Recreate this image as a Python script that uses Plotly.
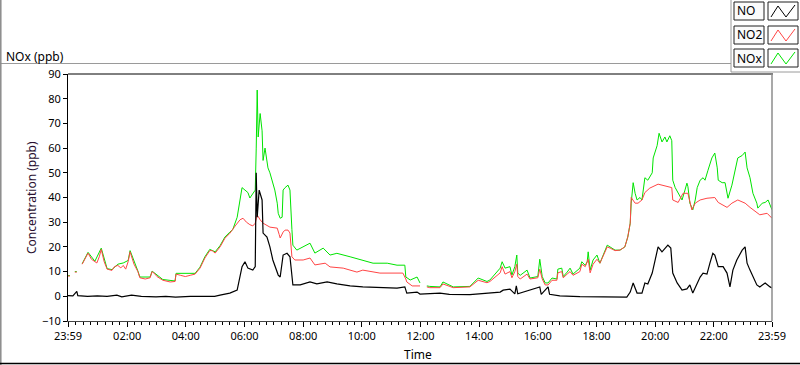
import plotly.graph_objects as go

# ---------------- data (minutes after 23:59 of the previous day) ----------------
no_t = [0, 10, 18, 20, 40, 60, 80, 100, 110, 130, 150, 180, 200, 220, 250, 280, 300, 311, 321, 331,
        346, 352, 356, 362, 368, 378, 383, 385, 387, 391, 397, 399, 407, 413, 419, 430, 434, 440, 448,
        454, 458, 460, 475, 495, 509, 530, 550, 577, 603, 638, 673, 689, 693, 714, 720, 761, 780, 822,
        884, 890, 904, 914, 917, 920, 965, 968, 982, 985, 1006, 1047, 1088, 1143, 1150, 1156, 1164,
        1174, 1180, 1186, 1195, 1201, 1207, 1215, 1221, 1227, 1233, 1237, 1246, 1256, 1266, 1272, 1278,
        1287, 1293, 1299, 1307, 1313, 1319, 1323, 1330, 1340, 1348, 1354, 1360, 1368, 1379, 1385, 1389,
        1395, 1401, 1409, 1415, 1426, 1436, 1440]
no_v = [0.3, 0.2, 2.0, 0.3, 0.0, 0.2, 0.0, 0.5, -0.2, 0.5, 0.0, -0.2, 0.0, -0.3, 0.0, 0.0, 0.0, 0.5, 1.0, 1.3,
        2.5, 7.8, 12.0, 14.0, 11.4, 10.6, 12.0, 50.0, 32.0, 43.0, 39.0, 25.6, 24.0, 20.0, 14.7, 8.6, 7.8, 16.7, 17.4,
        16.0, 6.6, 4.6, 4.6, 5.8, 5.0, 5.8, 5.0, 4.2, 3.8, 3.4, 3.3, 3.8, 1.3, 1.7, 0.9, 1.3, 0.8, 0.7,
        1.7, 2.5, 2.9, 1.0, 4.2, 1.0, 3.8, 0.8, 3.8, 0.8, 0.2, -0.1, -0.3, -0.3, 1.7, 5.4, 1.3,
        1.3, 5.4, 5.0, 9.4, 14.7, 20.0, 18.0, 19.5, 20.7, 19.5, 9.4, 5.4, 2.5, 3.0, 4.6, 1.3,
        5.4, 7.8, 9.4, 9.0, 13.4, 17.4, 16.7, 12.0, 12.0, 9.4, 3.8, 10.6, 14.7, 18.7, 20.0, 13.4,
        10.6, 7.8, 4.6, 3.8, 5.4, 3.8, 3.4]

no2_t = [0, 4, 6, 14, 18, 22, 29, 35, 41, 48, 55, 59, 64, 68, 74, 80, 90, 95, 102, 108, 113, 118, 123, 127,
         135, 143, 147, 158, 168, 172, 178, 182, 194, 209, 219, 221, 230, 240, 250, 260, 270, 280, 290, 295,
         301, 311, 321, 331, 342, 352, 358, 365, 372, 378, 383, 387, 393, 399, 413, 428, 432, 434, 440, 444,
         450, 454, 458, 464, 481, 495, 505, 515, 526, 536, 563, 591, 603, 638, 685, 691, 693, 704, 720, 726,
         734, 740, 761, 767, 788, 822, 839, 857, 863, 884, 888, 894, 904, 908, 914, 918, 920, 925, 939, 945,
         961, 965, 970, 976, 982, 990, 1000, 1002, 1010, 1013, 1021, 1027, 1033, 1047, 1051, 1058, 1064, 1068,
         1074, 1082, 1088, 1103, 1109, 1119, 1129, 1139, 1145, 1150, 1152, 1160, 1166, 1174, 1180, 1190, 1207,
         1225, 1235, 1237, 1248, 1258, 1268, 1276, 1283, 1293, 1307, 1323, 1330, 1348, 1358, 1370, 1385, 1395,
         1409, 1415, 1430, 1440]
no2_v = [8.2, 8.2, None, 9.8, 9.8, None, 13.0, 15.0, 17.5, 15.0, 14.0, 13.5, 16.0, 19.0, 14.0, 11.0, 10.5, 12.0,
         12.5, 11.5, 12.5, 11.0, 14.0, 18.0, 13.0, 10.0, 7.5, 7.0, 7.5, 10.0, 9.0, 8.0, 6.5, 5.8, 6.0, 9.0, 8.5,
         8.0, 8.5, 9.0, 11.4, 15.5, 18.5, 18.5, 17.5, 20.0, 23.5, 25.5, 28.5, 31.0, 31.6, 30.0, 29.0, 28.5, 29.6,
         32.9, 31.0, 29.6, 28.0, 27.6, 25.0, 23.6, 26.0, 26.8, 26.8, 25.6, 16.0, 14.7, 14.7, 15.5, 12.7, 13.0,
         13.4, 11.9, 11.4, 9.8, 10.6, 9.4, 9.4, 7.0, 5.8, 4.2, 4.2, None, 3.8, 3.5, 3.5, 5.0, 3.5, 3.8, 6.5, 5.5,
         6.0, 9.5, 12.0, 9.0, 10.0, 7.5, 10.0, 13.0, 8.0, 7.0, 9.0, 7.0, 7.5, 11.0, 7.0, 4.6, 4.6, 6.5, 6.5, 9.5,
         10.0, 7.5, 9.0, 10.0, 8.5, 10.0, 13.0, 12.0, 15.0, 9.5, 13.0, 15.0, 13.4, 20.0, 19.5, 18.5, 18.7, 20.0,
         24.0, 29.6, 40.0, 37.7, 37.7, 39.0, 42.0, 43.8, 45.4, 44.6, 44.0, 39.0, 38.0, 41.7, 41.7, 35.0, 37.7,
         39.0, 39.7, 40.0, 38.0, 36.0, 37.7, 39.0, 37.7, 36.0, 34.0, 33.0, 33.6, 31.6]

nox_t = [0, 4, 6, 14, 18, 22, 29, 41, 55, 68, 80, 90, 102, 113, 123, 127, 143, 147, 168, 172, 194, 219, 221,
         260, 270, 280, 290, 301, 311, 321, 331, 337, 346, 352, 356, 362, 368, 372, 376, 383, 385, 387, 389,
         393, 397, 399, 403, 407, 409, 413, 417, 423, 428, 430, 434, 438, 440, 444, 450, 454, 458, 460, 468,
         475, 495, 505, 522, 536, 550, 577, 603, 624, 653, 673, 689, 691, 700, 714, 720, 726, 734, 740, 761,
         767, 788, 822, 839, 857, 863, 884, 888, 894, 904, 908, 914, 918, 920, 925, 939, 945, 961, 965, 970,
         976, 982, 990, 1000, 1002, 1010, 1013, 1021, 1027, 1033, 1047, 1051, 1058, 1062, 1064, 1068, 1074,
         1082, 1088, 1103, 1109, 1119, 1129, 1139, 1145, 1150, 1152, 1156, 1160, 1164, 1170, 1174, 1180, 1186,
         1195, 1197, 1205, 1209, 1215, 1221, 1225, 1231, 1235, 1237, 1242, 1248, 1256, 1262, 1266, 1268, 1272,
         1278, 1283, 1287, 1293, 1299, 1303, 1309, 1317, 1323, 1328, 1330, 1338, 1344, 1350, 1358, 1364, 1370,
         1379, 1385, 1389, 1395, 1401, 1409, 1411, 1420, 1426, 1432, 1436, 1440]
nox_v = [8.4, 8.4, None, 10.0, 10.0, None, 13.2, 17.8, 14.2, 19.5, 11.2, 10.8, 13.0, 13.5, 14.5, 18.5, 10.2,
         7.8, 7.8, 10.2, 6.8, 6.2, 9.3, 9.3, 11.8, 16.0, 19.0, 18.0, 20.5, 24.0, 26.0, 27.0, 32.0, 40.0, 44.0,
         43.0, 42.0, 39.8, 41.0, 43.0, 60.0, 83.5, 64.5, 74.0, 67.0, 55.0, 60.0, 54.0, 52.0, 50.0, 47.0, 43.0,
         37.7, 33.6, 31.6, 32.0, 43.0, 44.0, 45.0, 43.0, 27.0, 20.7, 18.7, 19.5, 21.5, 17.5, 19.5, 16.7, 17.4,
         16.0, 14.6, 13.4, 13.4, 12.6, 12.6, 7.8, 6.6, 7.8, 5.4, None, 4.2, 4.0, 3.8, 5.8, 3.8, 4.0, 7.4, 6.0,
         6.6, 11.4, 14.0, 11.4, 12.0, 8.6, 12.0, 16.7, 9.4, 8.5, 10.6, 7.4, 8.0, 15.0, 8.0, 5.4, 5.4, 7.4, 7.0,
         11.0, 11.4, 8.0, 9.8, 11.4, 9.0, 11.4, 14.0, 12.5, 14.0, 18.0, 10.6, 14.7, 16.7, 13.4, 20.7, 20.0,
         18.7, 18.7, 20.0, 24.0, 29.6, 37.7, 46.0, 41.7, 39.0, 40.0, 39.0, 48.0, 47.0, 50.0, 56.0, 61.0, 66.0,
         62.5, 64.5, 62.5, 65.0, 63.0, 47.0, 44.0, 41.7, 39.0, 43.0, 45.8, 44.4, 37.7, 35.0, 39.0, 44.0, 47.0,
         48.0, 47.0, 51.0, 56.0, 58.0, 52.0, 47.0, 46.0, 46.0, 39.7, 45.0, 51.0, 56.0, 57.0, 58.4, 52.0, 48.0,
         41.7, 37.7, 35.7, 37.7, 38.0, 39.0, 37.0, 35.0]

x_tick_vals = [0, 121, 241, 361, 481, 601, 721, 841, 961, 1081, 1201, 1321, 1440]
x_tick_text = ["23:59", "02:00", "04:00", "06:00", "08:00", "10:00", "12:00", "14:00",
               "16:00", "18:00", "20:00", "22:00", "23:59"]
legend_names = ["NO", "NO2", "NOx"]
colors = {"NO": "#000000", "NO2": "#ff4545", "NOx": "#00e400"}

FONT = "Noto Sans"

# ---------------- geometry helpers (pixel -> paper) ----------------
L, R, T, B = 68, 772, 74, 321
W, H = R - L, B - T


def px(p):
    return (p - L) / W


def py(p):
    return (B - p) / H


fig = go.Figure()
fig.add_trace(go.Scatter(x=nox_t, y=nox_v, mode="lines", name="NOx",
                         line=dict(color=colors["NOx"], width=1), connectgaps=False))
fig.add_trace(go.Scatter(x=no2_t, y=no2_v, mode="lines", name="NO2",
                         line=dict(color=colors["NO2"], width=1), connectgaps=False))
fig.add_trace(go.Scatter(x=no_t, y=no_v, mode="lines", name="NO",
                         line=dict(color=colors["NO"], width=1.2), connectgaps=False))

fig.update_layout(
    width=800, height=365,
    margin=dict(l=L, r=800 - R, t=T, b=365 - B),
    paper_bgcolor="white", plot_bgcolor="white",
    showlegend=False,
    font=dict(family=FONT, size=11, color="#000000"),
)

fig.update_xaxes(
    range=[0, 1440], tickmode="array", tickvals=x_tick_vals, ticktext=x_tick_text,
    ticks="outside", ticklen=5, tickcolor="#000000", tickwidth=1,
    showline=True, linecolor="#444444", linewidth=1, showgrid=False, zeroline=False,
    tickfont=dict(family=FONT, size=11, color="#000000"),
    minor=dict(tickmode="linear", tick0=1, dtick=15, ticks="outside", ticklen=3,
               tickcolor="#000000", showgrid=False),
)
fig.update_yaxes(
    range=[-10, 90], tickmode="linear", tick0=-10, dtick=10,
    ticks="outside", ticklen=4, tickcolor="#000000", tickwidth=1,
    showline=True, linecolor="#000000", linewidth=1, showgrid=False, zeroline=False,
    tickfont=dict(family=FONT, size=11, color="#000000"),
)

shapes = []
# plot frame: top black, right grey
shapes.append(dict(type="line", xref="paper", yref="paper", x0=px(L), x1=px(773), y0=py(74), y1=py(74),
                   line=dict(color="#000000", width=1)))
shapes.append(dict(type="line", xref="paper", yref="paper", x0=px(772), x1=px(772), y0=py(74), y1=py(321),
                   line=dict(color="#8c8c8c", width=1.5)))
# title separator and legend panel borders
shapes.append(dict(type="line", xref="paper", yref="paper", x0=px(0), x1=px(731), y0=py(63.5), y1=py(63.5),
                   line=dict(color="#9a9a9a", width=1)))
shapes.append(dict(type="line", xref="paper", yref="paper", x0=px(731), x1=px(731), y0=py(0), y1=py(72),
                   line=dict(color="#9a9a9a", width=1)))
shapes.append(dict(type="line", xref="paper", yref="paper", x0=px(731), x1=px(800), y0=py(72), y1=py(72),
                   line=dict(color="#9a9a9a", width=1)))
# outer window edges
shapes.append(dict(type="line", xref="paper", yref="paper", x0=px(0.8), x1=px(0.8), y0=py(0), y1=py(365),
                   line=dict(color="#8a8a8a", width=1.5)))
shapes.append(dict(type="line", xref="paper", yref="paper", x0=px(0), x1=px(800), y0=py(363.5), y1=py(363.5),
                   line=dict(color="#000000", width=1.5)))

annotations = []
row_tops = [2, 26, 49]
for name, top in zip(legend_names, row_tops):
    bot = top + 18
    shapes.append(dict(type="rect", xref="paper", yref="paper", x0=px(734), x1=px(764), y0=py(bot), y1=py(top),
                       line=dict(color="#202020", width=1), fillcolor="#fbfbfb"))
    shapes.append(dict(type="rect", xref="paper", yref="paper", x0=px(768), x1=px(798), y0=py(bot), y1=py(top),
                       line=dict(color="#202020", width=1), fillcolor="#ffffff"))
    pts = [(771, top + 15), (778, top + 4), (786, top + 15), (795, top + 3)]
    path = "M " + " L ".join(f"{px(a):.5f},{py(b):.5f}" for a, b in pts)
    shapes.append(dict(type="path", xref="paper", yref="paper", path=path,
                       line=dict(color=colors[name], width=1)))
    annotations.append(dict(x=px(735), y=py(top + 9), xref="paper", yref="paper", text=name,
                            showarrow=False, xanchor="left", yanchor="middle",
                            font=dict(family=FONT, size=12, color="#000000")))

annotations.append(dict(x=px(4), y=py(57), xref="paper", yref="paper", text="NOx (ppb)", showarrow=False,
                        xanchor="left", yanchor="middle", font=dict(family=FONT, size=12, color="#000000")))
annotations.append(dict(x=px(418), y=py(354), xref="paper", yref="paper", text="Time", showarrow=False,
                        xanchor="center", yanchor="middle", font=dict(family=FONT, size=12, color="#000000")))
annotations.append(dict(x=px(31), y=py(198), xref="paper", yref="paper", text="Concentration (ppb)",
                        showarrow=False, textangle=-90, xanchor="center", yanchor="middle",
                        font=dict(family=FONT, size=12, color="#2a1030")))

fig.update_layout(shapes=shapes, annotations=annotations)
fig.write_html("out.html", config={"displayModeBar": False},
               post_script="document.body.style.margin='0';document.body.style.overflow='hidden';")
